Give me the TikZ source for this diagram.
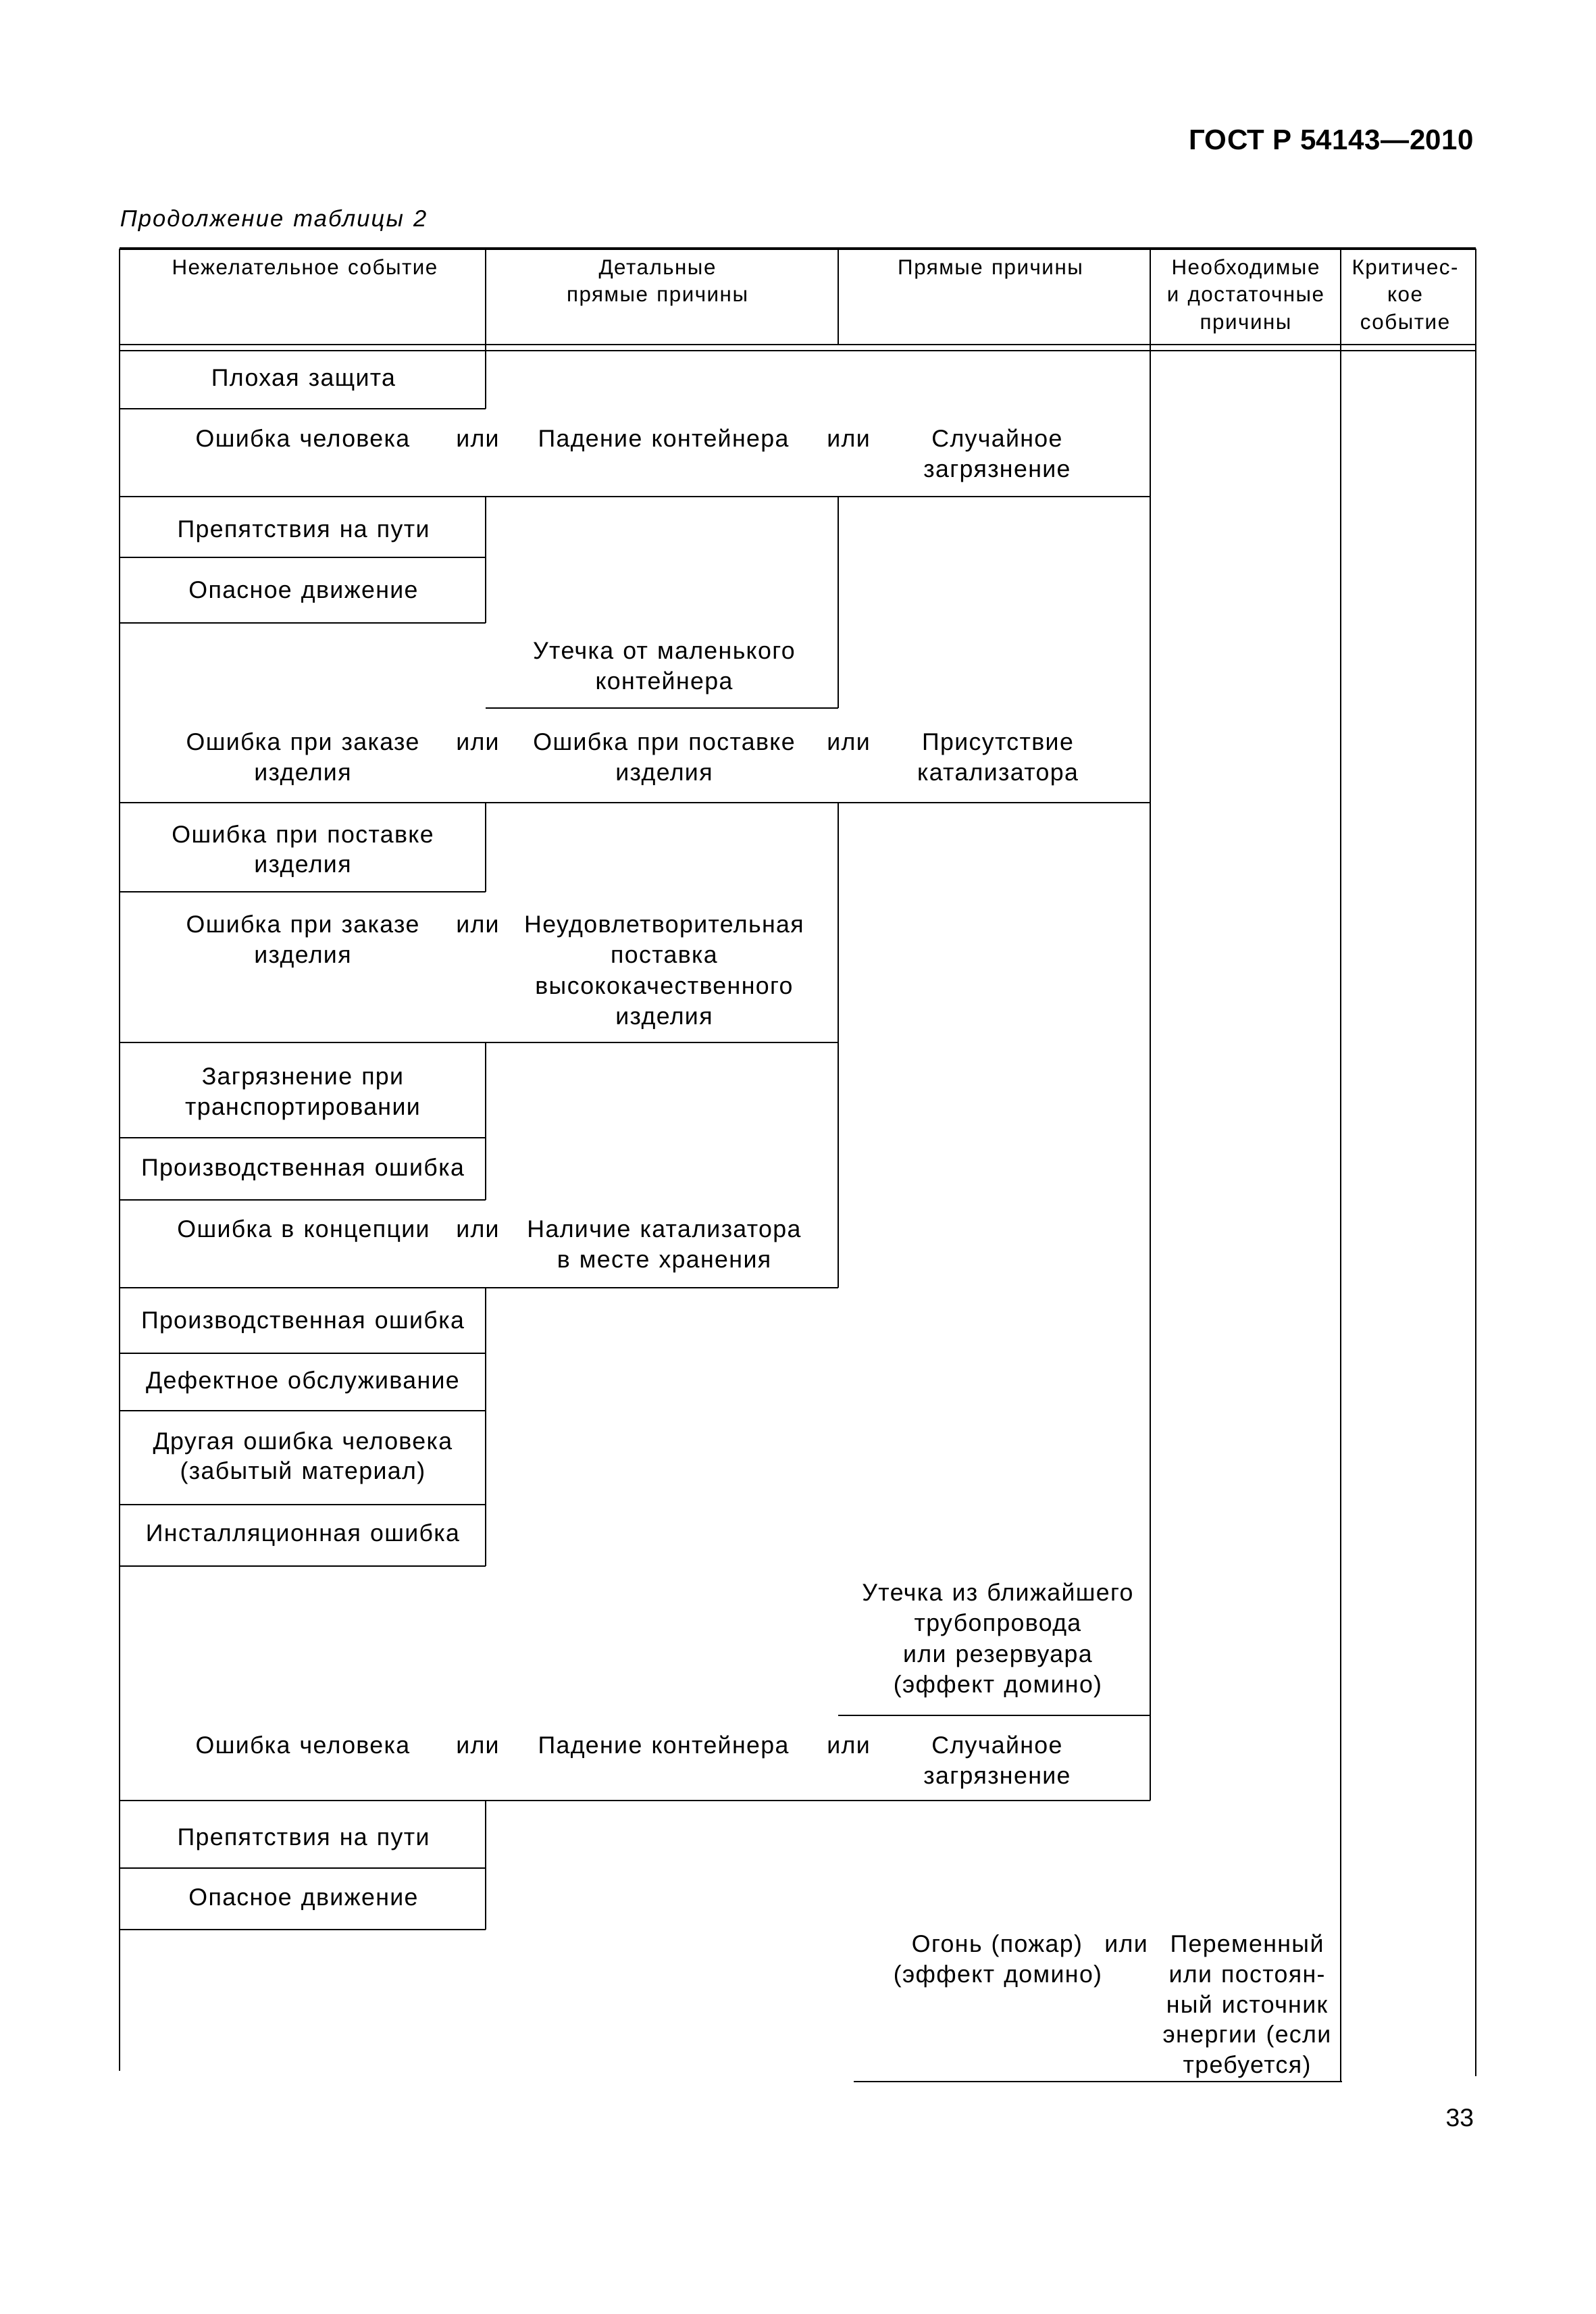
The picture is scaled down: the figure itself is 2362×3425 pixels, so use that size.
\documentclass[tikz,border=0pt]{standalone}
\usepackage{fontspec}
\setmainfont{Liberation Sans}
\newfontfamily\bodyfont[LetterSpace=3.8,WordSpace=1.25]{Liberation Sans}
\newfontfamily\headfont[LetterSpace=4.8,WordSpace=1.3]{Liberation Sans}
\newfontfamily\capfont[LetterSpace=6,WordSpace=1.3]{Liberation Sans}
\newfontfamily\titlefont[LetterSpace=1.2]{Liberation Sans}
\begin{document}
\begin{tikzpicture}[x=0.252pt,y=-0.252pt,
  tl/.style={line width=0.7pt},
  b/.style={font=\bodyfont\fontsize{9}{11}\selectfont, inner sep=0pt, anchor=base},
  h/.style={font=\headfont\fontsize{7.9}{10}\selectfont, inner sep=0pt, anchor=base}]
\useasboundingbox (0,0) rectangle (2362,3425);

% title and caption
\node[font=\titlefont\fontsize{10.6}{12}\selectfont\bfseries, inner sep=0pt, anchor=base east] (title) at (2183,222) {ГОСТ Р 54143—2010};
\node[font=\capfont\fontsize{8.7}{10}\selectfont\itshape, inner sep=0pt, anchor=base west] (cap) at (177,336) {Продолжение таблицы 2};
\node[font=\fontsize{9.4}{11}\selectfont, inner sep=0pt, anchor=base east] (pg) at (2183,3147) {33};

% frame and header
\draw[line width=0.9pt] (177,368) -- (2185,368);
\draw[tl] (177,368) -- (177,3065);
\draw[tl] (2185,368) -- (2185,3073);
\draw[tl] (177,510) -- (2185,510);
\draw[tl] (177,519) -- (2185,519);
\draw[tl] (719,368) -- (719,519);
\draw[tl] (1241,368) -- (1241,510);
\draw[tl] (1703,368) -- (1703,2665);
\draw[tl] (1985,368) -- (1985,3081);

% column 2 verticals
\draw[tl] (719,519) -- (719,605);
\draw[tl] (719,735) -- (719,922);
\draw[tl] (719,1188) -- (719,1320);
\draw[tl] (719,1543) -- (719,1776);
\draw[tl] (719,1906) -- (719,2318);
\draw[tl] (719,2665) -- (719,2856);
% column 3 verticals
\draw[tl] (1241,735) -- (1241,1048);
\draw[tl] (1241,1188) -- (1241,1906);

% horizontals
\draw[tl] (177,605) -- (719,605);
\draw[tl] (177,735) -- (1703,735);
\draw[tl] (177,825) -- (719,825);
\draw[tl] (177,922) -- (719,922);
\draw[tl] (719,1048) -- (1241,1048);
\draw[tl] (177,1188) -- (1703,1188);
\draw[tl] (177,1320) -- (719,1320);
\draw[tl] (177,1543) -- (1241,1543);
\draw[tl] (177,1684) -- (719,1684);
\draw[tl] (177,1776) -- (719,1776);
\draw[tl] (177,1906) -- (1241,1906);
\draw[tl] (177,2003) -- (719,2003);
\draw[tl] (177,2088) -- (719,2088);
\draw[tl] (177,2227) -- (719,2227);
\draw[tl] (177,2318) -- (719,2318);
\draw[tl] (1241,2539) -- (1703,2539);
\draw[tl] (177,2665) -- (1703,2665);
\draw[tl] (177,2765) -- (719,2765);
\draw[tl] (177,2856) -- (719,2856);
\draw[tl] (1264,3081) -- (1987,3081);

% header texts
\node[h] (hA) at (451,407) {Нежелательное событие};
\node[h] (hB1) at (973,407) {Детальные};
\node[h] (hB2) at (973,447) {прямые причины};
\node[h] (hC) at (1466,407) {Прямые причины};
\node[h] (hD1) at (1844,407) {Необходимые};
\node[h] (hD2) at (1844,447) {и достаточные};
\node[h] (hD3) at (1844,487) {причины};
\node[h] (hE1) at (2080,407) {Критичес-};
\node[h] (hE2) at (2080,447) {кое};
\node[h] (hE3) at (2080,487) {событие};

% block 1
\node[b] (t1) at (449,571) {Плохая защита};
\node[b] (t2) at (448,661) {Ошибка человека};
\node[b] (o1) at (707,661) {или};
\node[b] (t3) at (982,661) {Падение контейнера};
\node[b] (o2) at (1256,661) {или};
\node[b] (t4a) at (1476,661) {Случайное};
\node[b] (t4b) at (1476,706) {загрязнение};

% block 2
\node[b] (t5) at (449,795) {Препятствия на пути};
\node[b] (t6) at (449,885) {Опасное движение};
\node[b] (t7a) at (983,975) {Утечка от маленького};
\node[b] (t7b) at (983,1020) {контейнера};
\node[b] (t8a) at (448,1110) {Ошибка при заказе};
\node[b] (t8b) at (448,1155) {изделия};
\node[b] (o3) at (707,1110) {или};
\node[b] (t9a) at (983,1110) {Ошибка при поставке};
\node[b] (t9b) at (983,1155) {изделия};
\node[b] (o4) at (1256,1110) {или};
\node[b] (t10a) at (1477,1110) {Присутствие};
\node[b] (t10b) at (1477,1155) {катализатора};

% block 3
\node[b] (t11a) at (448,1247) {Ошибка при поставке};
\node[b] (t11b) at (448,1291) {изделия};
\node[b] (t12a) at (448,1380) {Ошибка при заказе};
\node[b] (t12b) at (448,1425) {изделия};
\node[b] (o5) at (707,1380) {или};
\node[b] (t13a) at (983,1380) {Неудовлетворительная};
\node[b] (t13b) at (983,1425) {поставка};
\node[b] (t13c) at (983,1471) {высококачественного};
\node[b] (t13d) at (983,1516) {изделия};

% block 4
\node[b] (t14a) at (448,1605) {Загрязнение при};
\node[b] (t14b) at (448,1650) {транспортировании};
\node[b] (t15) at (448,1740) {Производственная ошибка};
\node[b] (t16) at (449,1831) {Ошибка в концепции};
\node[b] (o6) at (707,1831) {или};
\node[b] (t17a) at (983,1831) {Наличие катализатора};
\node[b] (t17b) at (983,1876) {в месте хранения};

% block 5
\node[b] (t18) at (448,1966) {Производственная ошибка};
\node[b] (t19) at (448,2055) {Дефектное обслуживание};
\node[b] (t20a) at (448,2145) {Другая ошибка человека};
\node[b] (t20b) at (448,2189) {(забытый материал)};
\node[b] (t21) at (448,2281) {Инсталляционная ошибка};
\node[b] (t22a) at (1477,2369) {Утечка из ближайшего};
\node[b] (t22b) at (1477,2414) {трубопровода};
\node[b] (t22c) at (1477,2460) {или резервуара};
\node[b] (t22d) at (1477,2505) {(эффект домино)};
\node[b] (t23) at (448,2595) {Ошибка человека};
\node[b] (o7) at (707,2595) {или};
\node[b] (t24) at (982,2595) {Падение контейнера};
\node[b] (o8) at (1256,2595) {или};
\node[b] (t25a) at (1476,2595) {Случайное};
\node[b] (t25b) at (1476,2640) {загрязнение};

% block 6
\node[b] (t26) at (449,2731) {Препятствия на пути};
\node[b] (t27) at (449,2820) {Опасное движение};
\node[b] (t28a) at (1476,2889) {Огонь (пожар)};
\node[b] (t28b) at (1477,2934) {(эффект домино)};
\node[b] (o9) at (1667,2889) {или};
\node[b] (t29a) at (1846,2889) {Переменный};
\node[b] (t29b) at (1846,2934) {или постоян-};
\node[b] (t29c) at (1846,2979) {ный источник};
\node[b] (t29d) at (1846,3023) {энергии (если};
\node[b] (t29e) at (1846,3068) {требуется)};
\end{tikzpicture}
\end{document}
